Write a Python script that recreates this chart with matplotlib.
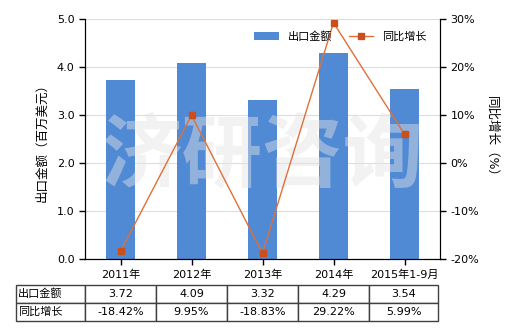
import matplotlib as mpl
mpl.use('Agg')
import matplotlib.pyplot as plt

plt.rcParams['font.family'] = ['DejaVu Sans', 'Noto Sans CJK SC']

years = ['2011年', '2012年', '2013年', '2014年', '2015年1-9月']
export_value = [3.72, 4.09, 3.32, 4.29, 3.54]
growth = [-18.42, 9.95, -18.83, 29.22, 5.99]
value_labels = ['3.72', '4.09', '3.32', '4.29', '3.54']
growth_labels = ['-18.42%', '9.95%', '-18.83%', '29.22%', '5.99%']

bar_color = '#5089D4'
line_color = '#E07038'
mark_color = '#C9501C'

fig = plt.figure(figsize=(5.2, 3.3), dpi=100)
ax = fig.add_axes([85 / 520, 1 - 259 / 330, 355 / 520, 240 / 330])
x = list(range(len(years)))

ax.bar(x, export_value, width=0.41, color=bar_color, zorder=2, label='出口金额')
ax.set_xlim(-0.5, len(years) - 0.5)
ax.set_ylim(0, 5)
ax.set_yticks([0, 1, 2, 3, 4, 5])
ax.set_yticklabels(['%.1f' % v for v in [0, 1, 2, 3, 4, 5]], fontsize=8)
ax.set_xticks(x)
ax.set_xticklabels(years, fontsize=8)
ax.grid(axis='y', color='#DDDDDD', lw=0.8, zorder=0)
ax.spines['top'].set_visible(False)
ax.tick_params(length=4, width=1)
ax.set_ylabel('出口金额（百万美元）', fontsize=9, labelpad=6)

# faint watermark
ax.text(0.5, 0.42, '济研咨询', transform=ax.transAxes, fontsize=58,
        family='Noto Sans CJK SC', weight='bold', color='#E4E4E4', alpha=0.45,
        ha='center', va='center', zorder=3)

ax2 = ax.twinx()
ax2.plot(x, growth, color=line_color, lw=1, marker='s', markersize=5,
         markerfacecolor=mark_color, markeredgecolor=mark_color, zorder=4, label='同比增长')
ax2.set_ylim(-20, 30)
ax2.set_yticks([-20, -10, 0, 10, 20, 30])
ax2.set_yticklabels(['%d%%' % v for v in [-20, -10, 0, 10, 20, 30]], fontsize=8)
ax2.spines['top'].set_visible(False)
ax2.tick_params(length=4, width=1)
ax2.set_ylabel('同比增长（%）', fontsize=9, rotation=-90, labelpad=14)

h1, l1 = ax.get_legend_handles_labels()
h2, l2 = ax2.get_legend_handles_labels()
ax2.legend(h1 + h2, l1 + l2, loc='upper right', ncol=2, frameon=False,
           fontsize=8, bbox_to_anchor=(0.99, 0.99), handlelength=2.2, columnspacing=1.5)

cells = [['出口金额'] + value_labels, ['同比增长'] + growth_labels]
widths = [69, 71, 71, 71, 71, 69]
total = float(sum(widths))
tab = ax.table(cellText=cells, colWidths=[w / total for w in widths], cellLoc='center',
               bbox=[(16 - 85) / 355, -(321 - 259) / 240, (438 - 16) / 355, 36 / 240])
tab.auto_set_font_size(False)
for (r, c), cell in tab.get_celld().items():
    cell.set_edgecolor('#404040')
    cell.set_linewidth(1)
    cell.get_text().set_fontsize(8)
    if c == 0:
        cell.get_text().set_ha('left')
        cell.PAD = 0.03

fig.savefig('out.png', dpi=100)
